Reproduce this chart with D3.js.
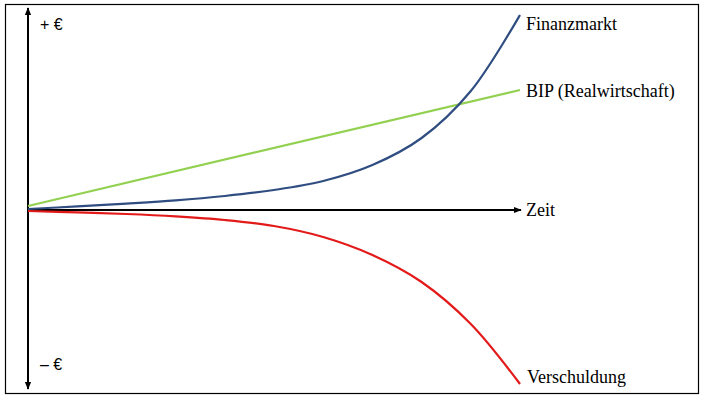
<!DOCTYPE html>
<html><head><meta charset="utf-8">
<script src="https://cdn.jsdelivr.net/npm/d3@7"></script>
<style>html,body{margin:0;padding:0;background:#fff;}</style>
</head><body>
<svg id="c" width="706" height="401"></svg>
<script>
const time = [0,10,20,30,40,50,60,70,80,90,100];
const finanzmarkt = [0.5,1.8,3.2,4.8,7,10,14.5,22.5,36,59.5,97.5];
const verschuldung = [-0.5,-1.2,-2,-3.2,-5,-8,-13.5,-22.5,-36,-57,-87];
const bipTime = [0,100];
const bip = [2,60];
const labels = ["Finanzmarkt","BIP (Realwirtschaft)","Zeit","Verschuldung"];
const yLabels = ["+ €","– €"];

const svg = d3.select("#c");
const x = d3.scaleLinear().domain([0,100]).range([28,520]);
const y = d3.scaleLinear().domain([-100,100]).range([410,10]);

svg.append("rect").attr("x",5.5).attr("y",4.5).attr("width",693).attr("height",389)
  .attr("fill","none").attr("stroke","#000").attr("stroke-width",1.2);

const defs = svg.append("defs");
defs.append("marker").attr("id","ah").attr("viewBox","0 0 10 10").attr("refX",9).attr("refY",5)
  .attr("markerWidth",4).attr("markerHeight",4).attr("markerUnits","strokeWidth").attr("orient","auto")
  .append("path").attr("d","M0,1 L10,5 L0,9 Z").attr("fill","#000");

svg.append("line").attr("x1",x(0)).attr("y1",y(0)).attr("x2",x(100)+1).attr("y2",y(0))
  .attr("stroke","#000").attr("stroke-width",2).attr("marker-end","url(#ah)");
svg.append("line").attr("x1",x(0)).attr("y1",y(0)).attr("x2",x(0)).attr("y2",8)
  .attr("stroke","#000").attr("stroke-width",2).attr("marker-end","url(#ah)");
svg.append("line").attr("x1",x(0)).attr("y1",y(0)).attr("x2",x(0)).attr("y2",389)
  .attr("stroke","#000").attr("stroke-width",2).attr("marker-end","url(#ah)");

const line = d3.line().x(d=>x(d[0])).y(d=>y(d[1])).curve(d3.curveCatmullRom.alpha(0.5));

svg.append("path").datum(bipTime.map((t,i)=>[t,bip[i]])).attr("d",line)
  .attr("fill","none").attr("stroke","#92D050").attr("stroke-width",2.2);
svg.append("path").datum(time.map((t,i)=>[t,verschuldung[i]])).attr("d",line)
  .attr("fill","none").attr("stroke","#E31A1A").attr("stroke-width",2.2);
svg.append("path").datum(time.map((t,i)=>[t,finanzmarkt[i]])).attr("d",line)
  .attr("fill","none").attr("stroke","#2F4D80").attr("stroke-width",2.2);

const lab = [[labels[0],526,30],[labels[1],526,97],[labels[2],526,216],[labels[3],527,383]];
svg.selectAll("text.r").data(lab).enter().append("text").attr("class","r")
  .attr("x",d=>d[1]).attr("y",d=>d[2]).text(d=>d[0])
  .style("font-family",'"Liberation Serif"').style("font-size","18px").style("fill","#000");

svg.append("text").attr("x",40).attr("y",30).text(yLabels[0])
  .style("font-family",'"Liberation Sans"').style("font-size","16px");
svg.append("text").attr("x",40).attr("y",370).text(yLabels[1])
  .style("font-family",'"Liberation Sans"').style("font-size","16px");
</script>
</body></html>
